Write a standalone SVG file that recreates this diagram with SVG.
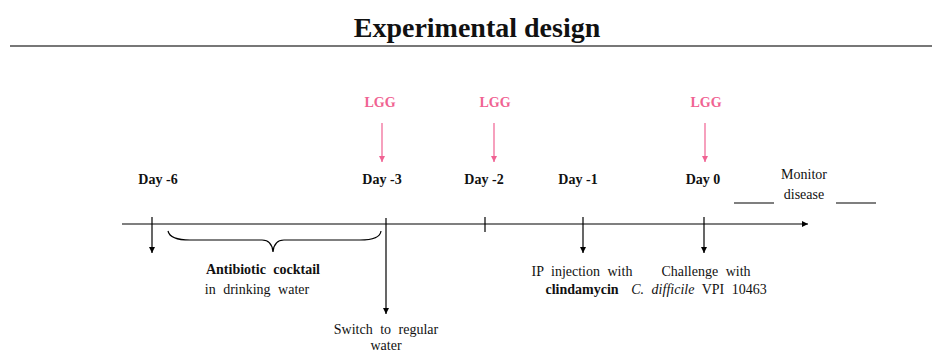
<svg xmlns="http://www.w3.org/2000/svg" width="932" height="354" viewBox="0 0 932 354">
<defs>
<marker id="ab" markerWidth="8" markerHeight="8" refX="6" refY="4" orient="auto" markerUnits="userSpaceOnUse"><path d="M0,1 L6,4 L0,7 Z" fill="#000"/></marker>
<marker id="ap" markerWidth="8" markerHeight="8" refX="6" refY="4" orient="auto" markerUnits="userSpaceOnUse"><path d="M0,1 L6,4 L0,7 Z" fill="#f06292"/></marker>
</defs>
<style>
text{font-family:"Liberation Serif","Times New Roman",serif;fill:#111}
.t{font-size:28px;font-weight:bold;text-anchor:middle}
.d{font-size:14px;font-weight:bold;text-anchor:middle}
.l{font-size:14px;font-weight:bold;text-anchor:middle;fill:#f06292}
.s{font-size:14px;text-anchor:middle;word-spacing:4px}
.b{font-weight:bold}
.k{stroke:#000;stroke-width:1.2;fill:none}
.p{stroke:#f06292;stroke-width:1.2;fill:none}
</style>
<rect width="932" height="354" fill="#fff"/>
<g id="title">
<text class="t" x="477" y="37">Experimental design</text>
<line x1="10" y1="46" x2="932" y2="46" stroke="#777" stroke-width="2"/>
</g>
<g id="connectors">
<line class="k" x1="122" y1="224" x2="808" y2="224" marker-end="url(#ab)"/>
<line class="k" x1="152" y1="217" x2="152" y2="253" marker-end="url(#ab)"/>
<line class="k" x1="386" y1="218" x2="386" y2="314" marker-end="url(#ab)"/>
<line class="k" x1="485" y1="217" x2="485" y2="232"/>
<line class="k" x1="583" y1="217" x2="583" y2="253" marker-end="url(#ab)"/>
<line class="k" x1="704" y1="217" x2="704" y2="253" marker-end="url(#ab)"/>
<line class="p" x1="382" y1="123" x2="382" y2="162" marker-end="url(#ap)"/>
<line class="p" x1="494" y1="123" x2="494" y2="162" marker-end="url(#ap)"/>
<line class="p" x1="705" y1="123" x2="705" y2="162" marker-end="url(#ap)"/>
<path class="k" d="M168,231 Q170,240 190,240 L262,240 Q272,240 273,252 Q274,240 284,240 L360,240 Q380,240 381,231" stroke-width="1"/>
<line class="k" x1="734" y1="203" x2="774" y2="203" stroke="#444"/>
<line class="k" x1="836" y1="203" x2="876" y2="203" stroke="#444"/>
</g>
<g id="day-6"><text class="d" x="158" y="184">Day -6</text></g>
<g id="day-3"><text class="d" x="382" y="184">Day -3</text><text class="l" x="380" y="107">LGG</text></g>
<g id="day-2"><text class="d" x="484" y="184">Day -2</text><text class="l" x="495" y="107">LGG</text></g>
<g id="day-1"><text class="d" x="578" y="184">Day -1</text></g>
<g id="day0"><text class="d" x="703" y="184">Day 0</text><text class="l" x="706" y="107">LGG</text></g>
<g id="monitor"><text class="s" x="804" y="179">Monitor</text><text class="s" x="804" y="199">disease</text></g>
<g id="antibiotic"><text class="s b" x="263" y="274">Antibiotic cocktail</text><text class="s" x="257" y="294">in drinking water</text></g>
<g id="switch"><text class="s" x="386" y="334">Switch to regular</text><text class="s" x="386" y="350">water</text></g>
<g id="ip"><text class="s" x="582" y="276">IP injection with</text><text class="s b" x="582" y="294">clindamycin</text></g>
<g id="challenge"><text class="s" x="706" y="276">Challenge with</text><text class="s" x="699" y="294"><tspan font-style="italic">C. difficile</tspan> VPI 10463</text></g>
</svg>
